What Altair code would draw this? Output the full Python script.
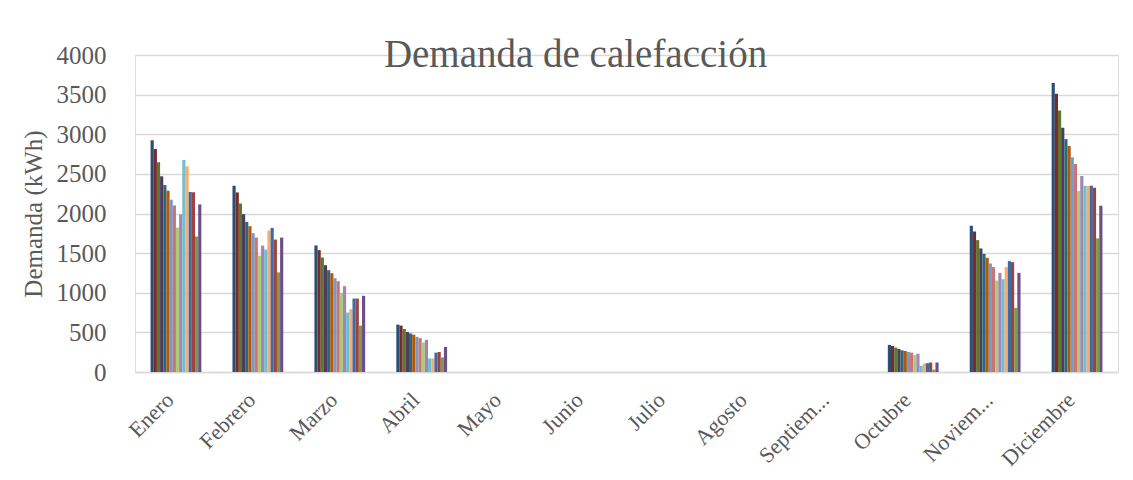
import altair as alt
import pandas as pd

months = ["Enero", "Febrero", "Marzo", "Abril", "Mayo", "Junio", "Julio",
          "Agosto", "Septiembre", "Octubre", "Noviembre", "Diciembre"]

# 16 series, values per month (kWh)
s01 = [2924, 2350, 1597, 598, 0, 0, 0, 0, 0, 342, 1845, 3646]
s02 = [2814, 2266, 1538, 585, 0, 0, 0, 0, 0, 329, 1773, 3511]
s03 = [2646, 2126, 1445, 542, 0, 0, 0, 0, 0, 308, 1664, 3301]
s04 = [2469, 1991, 1348, 504, 0, 0, 0, 0, 0, 290, 1559, 3082]
s05 = [2359, 1894, 1285, 487, 0, 0, 0, 0, 0, 273, 1491, 2939]
s06 = [2288, 1840, 1247, 470, 0, 0, 0, 0, 0, 265, 1441, 2851]
s07 = [2174, 1751, 1184, 444, 0, 0, 0, 0, 0, 252, 1369, 2708]
s08 = [2102, 1696, 1146, 427, 0, 0, 0, 0, 0, 244, 1323, 2624]
s09 = [1824, 1468, 998, 372, 0, 0, 0, 0, 0, 214, 1154, 2283]
s10 = [1989, 1595, 1083, 406, 0, 0, 0, 0, 0, 231, 1251, 2473]
s11 = [2675, 1544, 750, 171, 0, 0, 0, 0, 0, 77, 1171, 2351]
s12 = [2595, 1785, 792, 171, 0, 0, 0, 0, 0, 107, 1323, 2347]
s13 = [2271, 1818, 927, 244, 0, 0, 0, 0, 0, 111, 1399, 2351]
s14 = [2267, 1671, 927, 252, 0, 0, 0, 0, 0, 120, 1386, 2325]
s15 = [1710, 1257, 586, 184, 0, 0, 0, 0, 0, 30, 809, 1686]
s16 = [2115, 1696, 961, 316, 0, 0, 0, 0, 0, 120, 1251, 2098]

series = [s01, s02, s03, s04, s05, s06, s07, s08,
          s09, s10, s11, s12, s13, s14, s15, s16]
series_names = [f"Serie {i + 1}" for i in range(len(series))]

palette = ["#2C4D75", "#772C2A", "#5F7530", "#4D3B62", "#276A7C", "#B65708",
           "#729ACA", "#CD7371", "#AFC97A", "#9C87B8", "#6FBDD1", "#F9AB6B",
           "#3A6BA5", "#A33F3C", "#7E9A48", "#6A5087"]

rows = []
for name, vals in zip(series_names, series):
    for m, v in zip(months, vals):
        rows.append({"Mes": m, "Serie": name, "Demanda": v})
df = pd.DataFrame(rows)

FONT = "Liberation Serif"
GRAY = "#595959"

label_expr = ("datum.label == 'Septiembre' ? 'Septiem...' : "
              "datum.label == 'Noviembre' ? 'Noviem...' : datum.label")

chart = alt.Chart(df).mark_bar().encode(
    x=alt.X("Mes:N", sort=months,
            scale=alt.Scale(paddingInner=0.38, paddingOuter=0.19),
            axis=alt.Axis(title=None, labelAngle=-45, labelAlign="right",
                          labelBaseline="top", labelFontSize=22,
                          labelFont=FONT, labelColor=GRAY, ticks=False,
                          domainColor="#d9d9d9", domainWidth=1.3,
                          labelPadding=17, labelOffset=-13,
                          labelExpr=label_expr)),
    xOffset=alt.XOffset("Serie:N", sort=series_names),
    y=alt.Y("Demanda:Q",
            scale=alt.Scale(domain=[0, 4000], nice=False),
            axis=alt.Axis(title="Demanda (kWh)", values=list(range(0, 4001, 500)),
                          format="d",
                          grid=True, gridColor="#d9d9d9", gridWidth=1.3,
                          domain=False, ticks=False, labelFont=FONT,
                          labelFontSize=25, labelColor=GRAY, labelPadding=29,
                          titleFont=FONT, titleFontSize=25, titleColor=GRAY,
                          titleFontWeight="normal", titlePadding=10)),
    color=alt.Color("Serie:N", sort=series_names,
                    scale=alt.Scale(domain=series_names, range=palette),
                    legend=None),
).properties(
    width=983,
    height=317,
    title=alt.TitleParams("Demanda de calefacción", font=FONT, fontSize=39,
                          fontWeight="normal", color=GRAY, anchor="middle",
                          dx=-51, dy=36),
    autosize=alt.AutoSizeParams(type="none"),
    padding={"left": 127, "top": 47, "right": 7, "bottom": 100},
).configure_view(stroke=None).configure(background="white")

chart.save("out.html", embed_options={"renderer": "svg", "actions": False})
